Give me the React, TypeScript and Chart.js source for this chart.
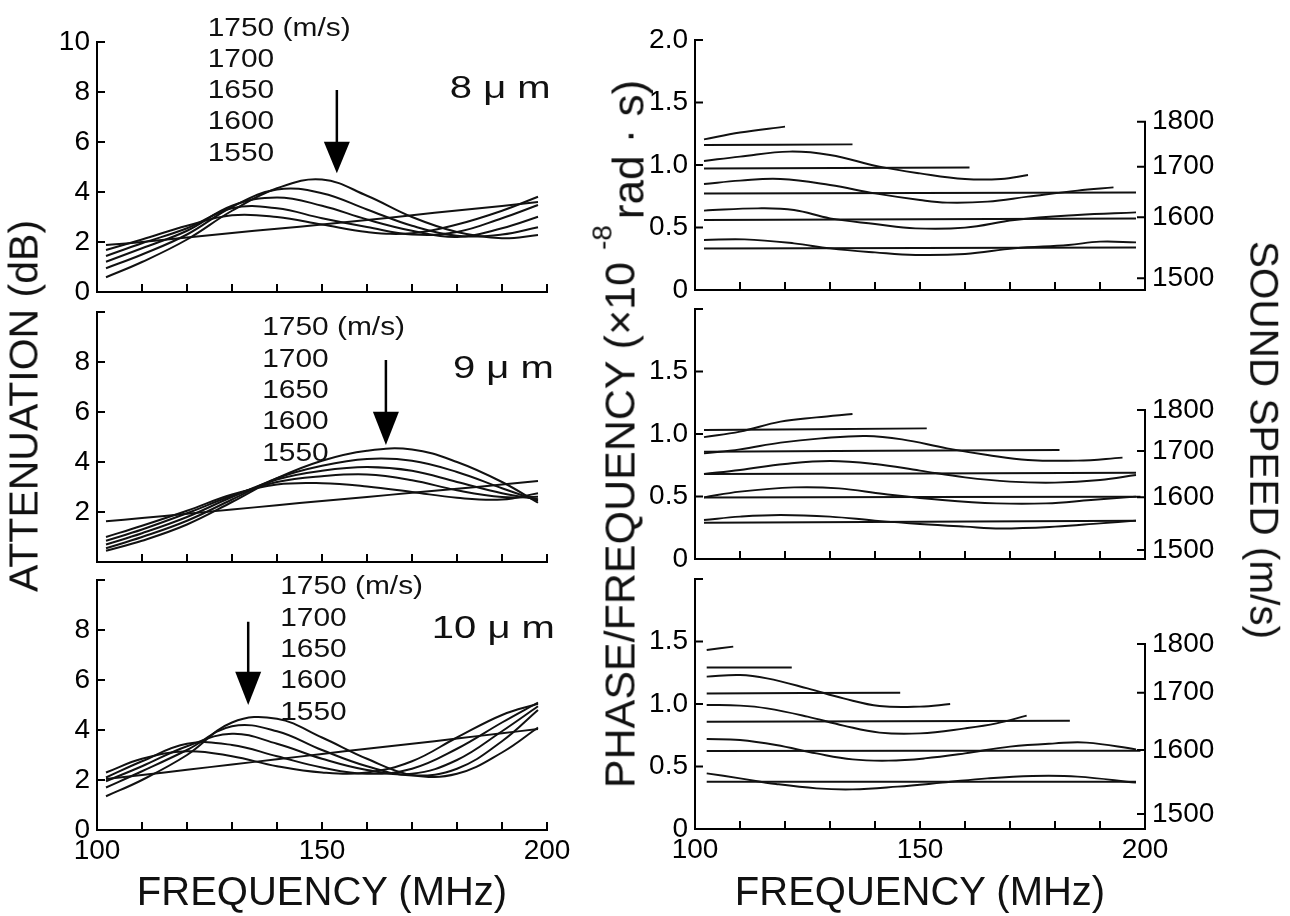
import React, { useEffect, useRef } from 'react';
import { Chart, registerables } from 'chart.js';

Chart.register(...registerables);

const PAGE_W = 1290;
const PAGE_H = 916;
const FONT = '"Liberation Sans", Arial, Helvetica, sans-serif';
const INK = '#111111';

// ---------- shared axis values ----------
const FREQ_MARKS = [100, 110, 120, 130, 140, 150, 160, 170, 180, 190, 200];
const FREQ_LABELS = [100, 150, 200];
const ATT_MARKS = [0, 2, 4, 6, 8, 10];
const PHASE_MARKS = [0, 0.5, 1.0, 1.5, 2.0];
const SPEEDS = [1750, 1700, 1650, 1600, 1550];
const SPEED_TICKS = [1500, 1600, 1700, 1800];

// ---------- attenuation (dB) vs frequency (MHz) ----------
const ATT_FREQ = [102, 110, 120, 130, 140, 150, 160, 170, 180, 190, 198];

const ATT8_REF = [1.88, 2.0, 2.18, 2.36, 2.53, 2.7, 2.88, 3.07, 3.26, 3.44, 3.6];
const ATT8_1550 = [1.68, 2.1, 2.65, 3.07, 3.0, 2.7, 2.4, 2.35, 2.7, 3.25, 3.81];
const ATT8_1600 = [1.44, 1.95, 2.55, 3.35, 3.35, 2.95, 2.6, 2.3, 2.4, 2.95, 3.48];
const ATT8_1650 = [1.21, 1.75, 2.45, 3.45, 3.78, 3.45, 2.9, 2.45, 2.2, 2.55, 3.01];
const ATT8_1700 = [0.95, 1.5, 2.3, 3.4, 4.1, 3.95, 3.3, 2.65, 2.25, 2.3, 2.59];
const ATT8_1750 = [0.59, 1.2, 2.1, 3.25, 4.15, 4.5, 3.85, 3.0, 2.4, 2.15, 2.28];

const ATT9_REF = [1.63, 1.76, 1.93, 2.1, 2.27, 2.44, 2.6, 2.77, 2.93, 3.1, 3.24];
const ATT9_1550 = [1.0, 1.45, 2.05, 2.7, 3.1, 3.15, 3.02, 2.8, 2.57, 2.5, 2.75];
const ATT9_1600 = [0.85, 1.3, 1.95, 2.65, 3.2, 3.43, 3.5, 3.27, 2.87, 2.6, 2.61];
const ATT9_1650 = [0.7, 1.15, 1.8, 2.6, 3.3, 3.65, 3.8, 3.65, 3.2, 2.75, 2.51];
const ATT9_1700 = [0.55, 1.0, 1.65, 2.5, 3.35, 3.85, 4.12, 4.05, 3.6, 2.95, 2.45];
const ATT9_1750 = [0.45, 0.85, 1.5, 2.4, 3.35, 4.05, 4.45, 4.5, 4.0, 3.2, 2.37];

const ATT10_REF = [2.04, 2.2, 2.41, 2.62, 2.83, 3.04, 3.25, 3.45, 3.66, 3.87, 4.04];
const ATT10_1550 = [2.3, 2.85, 3.15, 2.95, 2.55, 2.3, 2.3, 2.75, 3.7, 4.6, 5.05];
const ATT10_1600 = [2.1, 2.75, 3.45, 3.4, 2.95, 2.5, 2.25, 2.45, 3.25, 4.3, 5.1];
const ATT10_1650 = [1.95, 2.55, 3.35, 3.85, 3.45, 2.85, 2.4, 2.25, 2.8, 3.95, 4.95];
const ATT10_1700 = [1.7, 2.35, 3.2, 4.15, 3.95, 3.2, 2.55, 2.18, 2.45, 3.55, 4.8];
const ATT10_1750 = [1.35, 2.0, 3.0, 4.3, 4.45, 3.7, 2.85, 2.2, 2.25, 3.1, 4.1];

// ---------- phase/frequency (x1e-8 rad s) ----------
// 8 um
const PH8_W1750_F = [102, 110, 120];
const PH8_W1750_V = [1.205, 1.26, 1.307];
const PH8_F1750_F = [102, 135];
const PH8_F1750_V = [1.16, 1.165];
const PH8_W1700_F = [102, 110, 121, 130, 141, 150, 160, 168, 174];
const PH8_W1700_V = [1.032, 1.067, 1.107, 1.08, 0.987, 0.933, 0.888, 0.888, 0.92];
const PH8_F1700_F = [102, 161];
const PH8_F1700_V = [0.973, 0.981];
const PH8_W1650_F = [102, 110, 119, 130, 140, 150, 156, 165, 174, 185, 193];
const PH8_W1650_V = [0.848, 0.875, 0.888, 0.84, 0.773, 0.72, 0.699, 0.707, 0.747, 0.795, 0.821];
const PH8_F1650_F = [102, 198];
const PH8_F1650_V = [0.773, 0.781];
const PH8_W1600_F = [102, 114, 122, 130, 140, 149, 160, 171, 185, 198];
const PH8_W1600_V = [0.635, 0.653, 0.64, 0.573, 0.528, 0.493, 0.499, 0.56, 0.6, 0.621];
const PH8_F1600_F = [102, 198];
const PH8_F1600_V = [0.56, 0.573];
const PH8_W1550_F = [102, 111, 122, 130, 140, 149, 160, 171, 183, 190, 198];
const PH8_W1550_V = [0.4, 0.405, 0.373, 0.333, 0.301, 0.28, 0.288, 0.333, 0.36, 0.387, 0.381];
const PH8_F1550_F = [102, 198];
const PH8_F1550_V = [0.333, 0.341];
const PH8_SPEED_POS = [0.094, 0.582, 0.986, 1.346];

// 9 um
const PH9_W1750_F = [102, 110, 119, 127, 135];
const PH9_W1750_V = [0.975, 1.019, 1.099, 1.133, 1.16];
const PH9_F1750_F = [102, 151.5];
const PH9_F1750_V = [1.032, 1.045];
const PH9_W1700_F = [102, 110, 119, 128, 138, 146, 156, 165, 174, 185, 195];
const PH9_W1700_V = [0.845, 0.877, 0.931, 0.965, 0.984, 0.957, 0.885, 0.832, 0.792, 0.787, 0.811];
const PH9_F1700_F = [102, 181];
const PH9_F1700_V = [0.859, 0.872];
const PH9_W1650_F = [102, 110, 120, 130, 140, 150, 160, 170, 180, 190, 198];
const PH9_W1650_V = [0.68, 0.712, 0.76, 0.784, 0.76, 0.707, 0.653, 0.619, 0.611, 0.632, 0.672];
const PH9_F1650_F = [102, 198];
const PH9_F1650_V = [0.68, 0.69];
const PH9_W1600_F = [102, 110, 122, 132, 142, 155, 167, 178, 188, 198];
const PH9_W1600_V = [0.493, 0.539, 0.573, 0.565, 0.52, 0.472, 0.445, 0.445, 0.472, 0.499];
const PH9_F1600_F = [102, 199];
const PH9_F1600_V = [0.493, 0.499];
const PH9_W1550_F = [102, 110, 119, 130, 140, 150, 160, 168, 180, 190, 198];
const PH9_W1550_V = [0.312, 0.339, 0.352, 0.339, 0.307, 0.28, 0.259, 0.245, 0.259, 0.285, 0.307];
const PH9_F1550_F = [102, 198];
const PH9_F1550_V = [0.291, 0.307];
const PH9_SPEED_POS = [0.072, 0.494, 0.864, 1.192];

// 10 um
const PH10_W1750_F = [102.6, 108.5];
const PH10_W1750_V = [1.432, 1.459];
const PH10_F1750_F = [102.6, 121.5];
const PH10_F1750_V = [1.293, 1.293];
const PH10_W1700_F = [102.6, 110, 116, 125, 133, 141, 150, 156.7];
const PH10_W1700_V = [1.219, 1.232, 1.205, 1.125, 1.045, 0.984, 0.979, 1.0];
const PH10_F1700_F = [102.6, 145.6];
const PH10_F1700_V = [1.085, 1.09];
const PH10_W1650_F = [102.6, 110, 116, 125, 133, 141, 150, 160, 167, 173.7];
const PH10_W1650_V = [0.992, 0.987, 0.965, 0.899, 0.827, 0.771, 0.765, 0.805, 0.845, 0.907];
const PH10_F1650_F = [102.6, 183.3];
const PH10_F1650_V = [0.859, 0.867];
const PH10_W1600_F = [102.6, 110, 118, 127, 135, 143, 151, 160, 170, 180, 187, 198];
const PH10_W1600_V = [0.72, 0.712, 0.672, 0.605, 0.557, 0.547, 0.565, 0.605, 0.659, 0.685, 0.691, 0.637];
const PH10_F1600_F = [102.6, 199];
const PH10_F1600_V = [0.624, 0.627];
const PH10_W1550_F = [102.6, 110, 118, 127, 135, 145, 155, 165, 175, 185, 198];
const PH10_W1550_V = [0.445, 0.405, 0.36, 0.325, 0.317, 0.339, 0.371, 0.405, 0.424, 0.419, 0.371];
const PH10_F1550_F = [102.6, 198];
const PH10_F1550_V = [0.379, 0.379];
const PH10_SPEED_POS = [0.12, 0.632, 1.09, 1.48];

// ---------- panel definitions ----------
type Series = { f: number[]; v: number[] };
type Annot = {
  listF: number; listV: number; thick: string; thickF: number; thickV: number;
  arrowF: number; arrowTop: number; arrowBase: number; arrowTip: number;
};
type Panel = {
  area: { l: number; t: number; r: number; b: number };
  yMax: number; yMarks: number[]; yLabels: number[]; yFmt: (v: number) => string;
  xLabels: boolean; series: Series[]; speedPos?: number[]; annot?: Annot;
};

const att = (v: number[]): Series => ({ f: ATT_FREQ, v });
const fmtAtt = (v: number) => String(v);
const fmtPh = (v: number) => (v === 0 ? '0' : v.toFixed(1));

const PANELS: Panel[] = [
  {
    area: { l: 97, t: 42, r: 547, b: 292 }, yMax: 10, yMarks: ATT_MARKS, yLabels: [0, 2, 4, 6, 8, 10], yFmt: fmtAtt,
    xLabels: false,
    series: [att(ATT8_REF), att(ATT8_1550), att(ATT8_1600), att(ATT8_1650), att(ATT8_1700), att(ATT8_1750)],
    annot: { listF: 124.6, listV: 10.63, thick: '8', thickF: 178.4, thickV: 8.21, arrowF: 153.3, arrowTop: 8.08, arrowBase: 6.01, arrowTip: 4.75 },
  },
  {
    area: { l: 97, t: 312, r: 547, b: 562 }, yMax: 10, yMarks: ATT_MARKS, yLabels: [2, 4, 6, 8], yFmt: fmtAtt,
    xLabels: false,
    series: [att(ATT9_REF), att(ATT9_1550), att(ATT9_1600), att(ATT9_1650), att(ATT9_1700), att(ATT9_1750)],
    annot: { listF: 136.7, listV: 9.44, thick: '9', thickF: 179.1, thickV: 7.81, arrowF: 164.2, arrowTop: 8.08, arrowBase: 6.01, arrowTip: 4.68 },
  },
  {
    area: { l: 97, t: 580, r: 547, b: 830 }, yMax: 10, yMarks: ATT_MARKS, yLabels: [0, 2, 4, 6, 8], yFmt: fmtAtt,
    xLabels: true,
    series: [att(ATT10_REF), att(ATT10_1550), att(ATT10_1600), att(ATT10_1650), att(ATT10_1700), att(ATT10_1750)],
    annot: { listF: 140.7, listV: 9.8, thick: '10', thickF: 174.4, thickV: 8.13, arrowF: 133.6, arrowTop: 8.33, arrowBase: 6.33, arrowTip: 5.0 },
  },
  {
    area: { l: 695, t: 40, r: 1145, b: 290 }, yMax: 2, yMarks: PHASE_MARKS, yLabels: [0, 0.5, 1, 1.5, 2], yFmt: fmtPh,
    xLabels: false, speedPos: PH8_SPEED_POS,
    series: [
      { f: PH8_W1750_F, v: PH8_W1750_V }, { f: PH8_F1750_F, v: PH8_F1750_V },
      { f: PH8_W1700_F, v: PH8_W1700_V }, { f: PH8_F1700_F, v: PH8_F1700_V },
      { f: PH8_W1650_F, v: PH8_W1650_V }, { f: PH8_F1650_F, v: PH8_F1650_V },
      { f: PH8_W1600_F, v: PH8_W1600_V }, { f: PH8_F1600_F, v: PH8_F1600_V },
      { f: PH8_W1550_F, v: PH8_W1550_V }, { f: PH8_F1550_F, v: PH8_F1550_V },
    ],
  },
  {
    area: { l: 695, t: 309, r: 1145, b: 559 }, yMax: 2, yMarks: PHASE_MARKS, yLabels: [0, 0.5, 1, 1.5], yFmt: fmtPh,
    xLabels: false, speedPos: PH9_SPEED_POS,
    series: [
      { f: PH9_W1750_F, v: PH9_W1750_V }, { f: PH9_F1750_F, v: PH9_F1750_V },
      { f: PH9_W1700_F, v: PH9_W1700_V }, { f: PH9_F1700_F, v: PH9_F1700_V },
      { f: PH9_W1650_F, v: PH9_W1650_V }, { f: PH9_F1650_F, v: PH9_F1650_V },
      { f: PH9_W1600_F, v: PH9_W1600_V }, { f: PH9_F1600_F, v: PH9_F1600_V },
      { f: PH9_W1550_F, v: PH9_W1550_V }, { f: PH9_F1550_F, v: PH9_F1550_V },
    ],
  },
  {
    area: { l: 695, t: 579, r: 1145, b: 829 }, yMax: 2, yMarks: PHASE_MARKS, yLabels: [0, 0.5, 1, 1.5], yFmt: fmtPh,
    xLabels: true, speedPos: PH10_SPEED_POS,
    series: [
      { f: PH10_W1750_F, v: PH10_W1750_V }, { f: PH10_F1750_F, v: PH10_F1750_V },
      { f: PH10_W1700_F, v: PH10_W1700_V }, { f: PH10_F1700_F, v: PH10_F1700_V },
      { f: PH10_W1650_F, v: PH10_W1650_V }, { f: PH10_F1650_F, v: PH10_F1650_V },
      { f: PH10_W1600_F, v: PH10_W1600_V }, { f: PH10_F1600_F, v: PH10_F1600_V },
      { f: PH10_W1550_F, v: PH10_W1550_V }, { f: PH10_F1550_F, v: PH10_F1550_V },
    ],
  },
];

function drawText(ctx: CanvasRenderingContext2D, text: string, x: number, yMid: number, size: number, sx: number) {
  ctx.save();
  ctx.translate(x, yMid + 0.358 * size);
  ctx.scale(sx, 1);
  ctx.font = `${size}px ${FONT}`;
  ctx.textAlign = 'left';
  ctx.textBaseline = 'alphabetic';
  ctx.fillStyle = INK;
  ctx.fillText(text, 0, 0);
  ctx.restore();
}

function decoPlugin(p: Panel) {
  return {
    id: 'deco',
    afterDraw(chart: any) {
      const ctx: CanvasRenderingContext2D = chart.ctx;
      const xs = chart.scales.x;
      const ys = chart.scales.y;
      const { left, right, bottom } = chart.chartArea;
      ctx.save();
      ctx.strokeStyle = '#000';
      ctx.lineWidth = 2;
      ctx.beginPath();
      FREQ_MARKS.forEach((f) => {
        if (f === 100) return;
        const x = xs.getPixelForValue(f);
        ctx.moveTo(x, bottom);
        ctx.lineTo(x, bottom - 8);
      });
      p.yMarks.forEach((v) => {
        const y = ys.getPixelForValue(v);
        ctx.moveTo(left, y);
        ctx.lineTo(left + 8, y);
      });
      ctx.stroke();
      if (p.speedPos) {
        const y2 = chart.scales.y2;
        const topV = Math.max(...p.speedPos);
        const yTop = y2.getPixelForValue(topV);
        ctx.beginPath();
        ctx.moveTo(right, yTop - 1);
        ctx.lineTo(right, bottom + 1);
        p.speedPos.forEach((v) => {
          const y = y2.getPixelForValue(v);
          ctx.moveTo(right + 1, y);
          ctx.lineTo(right - 8, y);
        });
        ctx.stroke();
      }
      const a = p.annot;
      if (a) {
        const x0 = xs.getPixelForValue(a.listF);
        const y0 = ys.getPixelForValue(a.listV);
        SPEEDS.forEach((s, i) => {
          drawText(ctx, i === 0 ? `${s} (m/s)` : `${s}`, x0, y0 + i * 31.3, 26, 1.15);
        });
        drawText(ctx, `${a.thick} \u03bc m`, xs.getPixelForValue(a.thickF), ys.getPixelForValue(a.thickV), 32, 1.25);
        const ax = xs.getPixelForValue(a.arrowF);
        const yT = ys.getPixelForValue(a.arrowTop);
        const yB = ys.getPixelForValue(a.arrowBase);
        const yTip = ys.getPixelForValue(a.arrowTip);
        ctx.lineWidth = 2.5;
        ctx.beginPath();
        ctx.moveTo(ax, yT);
        ctx.lineTo(ax, yB + 2);
        ctx.stroke();
        ctx.fillStyle = '#000';
        ctx.beginPath();
        ctx.moveTo(ax - 13, yB);
        ctx.lineTo(ax + 13, yB);
        ctx.lineTo(ax, yTip);
        ctx.closePath();
        ctx.fill();
      }
      ctx.restore();
    },
  };
}

function ChartPanel({ p }: { p: Panel }) {
  const ref = useRef<HTMLCanvasElement | null>(null);
  useEffect(() => {
    const canvas = ref.current;
    if (!canvas) return;
    const YW = 70;
    const XH = 50;
    const RW = 90;
    const tickFont = { family: FONT, size: 28 };
    const scales: any = {
      x: {
        type: 'linear', min: 100, max: 200, position: 'bottom',
        grid: { display: false, drawTicks: false },
        border: { display: true, color: '#000', width: 2 },
        ticks: {
          display: p.xLabels, padding: 4, color: '#000', font: tickFont,
          autoSkip: false, maxRotation: 0, minRotation: 0,
          callback: (v: number) => String(v),
        },
        afterBuildTicks: (ax: any) => { ax.ticks = FREQ_LABELS.map((v) => ({ value: v })); },
        afterFit: (ax: any) => { ax.height = XH; },
      },
      y: {
        type: 'linear', min: 0, max: p.yMax, position: 'left',
        grid: { display: false, drawTicks: false },
        border: { display: true, color: '#000', width: 2 },
        ticks: {
          padding: 7, color: '#000', font: tickFont, autoSkip: false,
          callback: (v: number) => p.yFmt(v),
        },
        afterBuildTicks: (ax: any) => { ax.ticks = p.yLabels.map((v) => ({ value: v })); },
        afterFit: (ax: any) => { ax.width = YW; },
      },
    };
    if (p.speedPos) {
      const pos = p.speedPos;
      scales.y2 = {
        type: 'linear', min: 0, max: p.yMax, position: 'right',
        grid: { display: false, drawTicks: false },
        border: { display: false },
        ticks: {
          padding: 7, color: '#000', font: tickFont, autoSkip: false,
          callback: (_v: number, i: number) => String(SPEED_TICKS[i]),
        },
        afterBuildTicks: (ax: any) => { ax.ticks = pos.map((v) => ({ value: v })); },
        afterFit: (ax: any) => { ax.width = RW; },
      };
    }
    const datasets = p.series.map((s) => ({
      data: s.f.map((f, i) => ({ x: f, y: s.v[i] })),
      borderColor: INK,
      borderWidth: 2,
      pointRadius: 0,
      tension: 0.4,
      fill: false,
      xAxisID: 'x',
      yAxisID: 'y',
    }));
    const chart = new Chart(canvas, {
      type: 'line',
      data: { datasets },
      options: {
        responsive: false,
        animation: false,
        devicePixelRatio: 1,
        layout: {
          padding: {
            left: p.area.l - YW,
            top: p.area.t,
            right: PAGE_W - p.area.r - (p.speedPos ? RW : 0),
            bottom: PAGE_H - p.area.b - XH,
          },
        },
        plugins: { legend: { display: false }, tooltip: { enabled: false }, title: { display: false } },
        events: [],
        scales,
      } as any,
      plugins: [decoPlugin(p)],
    });
    return () => chart.destroy();
  }, [p]);
  return (
    <canvas
      ref={ref}
      width={PAGE_W}
      height={PAGE_H}
      style={{ position: 'absolute', left: 0, top: 0, width: PAGE_W, height: PAGE_H }}
    />
  );
}

const titleBase: React.CSSProperties = {
  position: 'absolute',
  whiteSpace: 'nowrap',
  fontFamily: FONT,
  color: INK,
  lineHeight: 1,
};

export default function App() {
  return (
    <div style={{ position: 'absolute', left: 0, top: 0, width: PAGE_W, height: PAGE_H, background: '#fff', overflow: 'hidden' }}>
      {PANELS.map((p, i) => (
        <ChartPanel key={i} p={p} />
      ))}
      <div style={{ ...titleBase, fontSize: 41, left: 24, top: 406, transform: 'translate(-50%, -50%) rotate(-90deg)' }}>
        ATTENUATION (dB)
      </div>
      <div style={{ ...titleBase, fontSize: 43, left: 620, top: 434, transform: 'translate(-50%, -50%) rotate(-90deg)' }}>
        PHASE/FREQUENCY (×10
        <span style={{ fontSize: 28, position: 'relative', top: -23, lineHeight: 0, marginLeft: 12, marginRight: 6 }}>-8</span>
        <span style={{ fontSize: 44, position: 'relative', top: 9, lineHeight: 0 }}>rad · s)</span>
      </div>
      <div style={{ ...titleBase, fontSize: 40.5, left: 1264, top: 440, transform: 'translate(-50%, -50%) rotate(90deg)' }}>
        SOUND SPEED (m/s)
      </div>
      <div style={{ ...titleBase, fontSize: 40, left: 322, top: 891, transform: 'translate(-50%, -50%)' }}>
        FREQUENCY (MHz)
      </div>
      <div style={{ ...titleBase, fontSize: 40, left: 920, top: 891, transform: 'translate(-50%, -50%)' }}>
        FREQUENCY (MHz)
      </div>
    </div>
  );
}
